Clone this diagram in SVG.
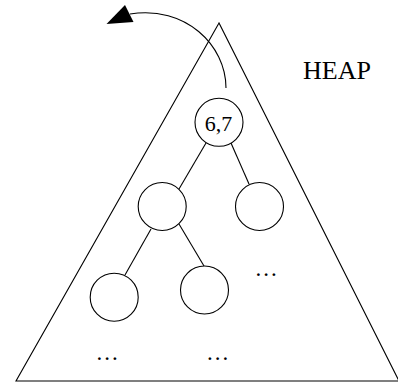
<svg xmlns="http://www.w3.org/2000/svg" width="398" height="385" viewBox="0 0 398 385">
<style>
.node circle{fill:#fff;stroke:#000;stroke-width:1.1}
.edge{stroke:#000;stroke-width:1.1;fill:none}
text{font-family:"Liberation Serif","Times New Roman",serif;fill:#000}
.dots{font-size:23px;letter-spacing:2px}
</style>
<rect width="398" height="385" fill="#fff"/>
<g id="heap-triangle">
<polygon points="219,23 16,381 399,381" fill="none" stroke="#000" stroke-width="1.1"/>
</g>
<g id="connectors">
<path class="edge" d="M226,88 C226,45 185,5 130,14" stroke-width="2.2"/>
<polygon points="106.5,24 125,5 133.5,22" fill="#000"/>
<line class="edge" x1="206" y1="143" x2="179" y2="189"/>
<line class="edge" x1="231" y1="143" x2="249" y2="184"/>
<line class="edge" x1="151" y1="229" x2="125" y2="275"/>
<line class="edge" x1="179" y1="224" x2="204" y2="266"/>
</g>
<g id="root" class="node">
<circle cx="219" cy="122.3" r="24"/>
<text x="218.5" y="131" font-size="22" text-anchor="middle">6,7</text>
</g>
<g id="mid-left" class="node"><circle cx="162.2" cy="206.5" r="24"/></g>
<g id="mid-right" class="node"><circle cx="259.5" cy="206.5" r="24"/></g>
<g id="bottom-left" class="node"><circle cx="114.2" cy="297.2" r="24"/></g>
<g id="bottom-mid" class="node"><circle cx="204.5" cy="290" r="24"/></g>
<g id="labels">
<text x="303" y="79" font-size="26">HEAP</text>
<text class="dots" x="255.4" y="276">...</text>
<text class="dots" x="96.5" y="360">...</text>
<text class="dots" x="207" y="360">...</text>
</g>
</svg>
